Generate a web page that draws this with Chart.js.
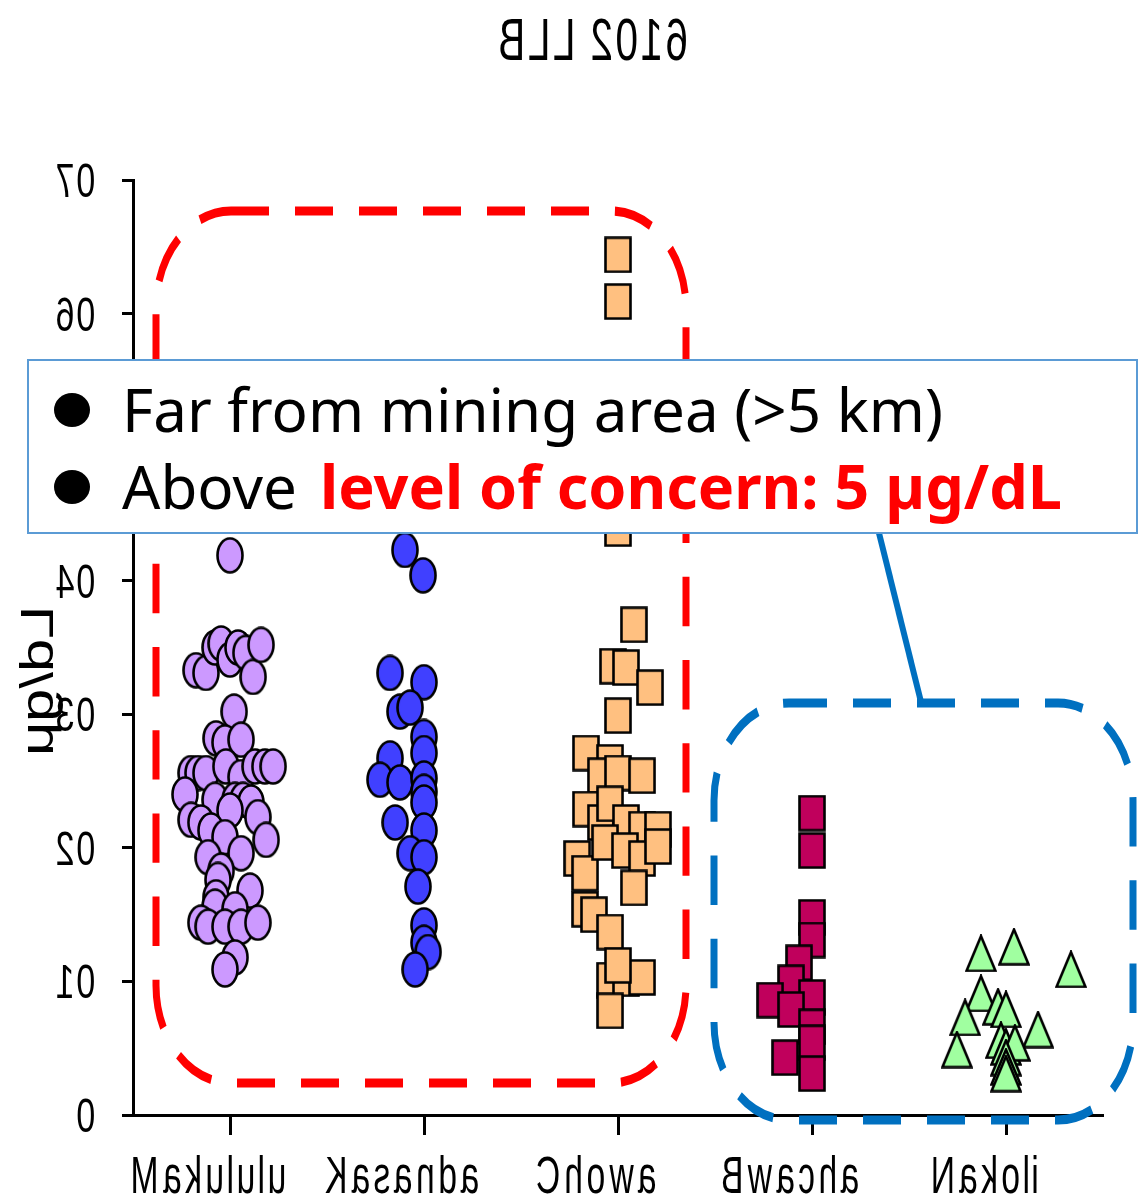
<!DOCTYPE html>
<html>
<head>
<meta charset="utf-8">
<script src="https://cdn.jsdelivr.net/npm/chart.js@4.4.1/dist/chart.umd.min.js"></script>
<style>
  html, body { margin: 0; padding: 0; background: #ffffff; }
  #wrap { width: 1140px; height: 1200px; position: relative; }
</style>
</head>
<body>
<div id="wrap"><canvas id="c" width="1140" height="1200"></canvas></div>
<script>
// ---- chart text ----
const titleText = 'BLL 2016';
const categories = ['Makululu', 'Kasanda', 'Chowa', 'Bwacha', 'Nakoli'];
const yTickValues = [0, 10, 20, 30, 40, 50, 60, 70];
const yAxisTitle = 'μg/dL';
const legendLine1 = 'Far from mining area (>5 km)';
const legendLine2Plain = 'Above ';
const legendLine2Bold = 'level of concern: 5 µg/dL';

// ---- blood lead values (µg/dL) and horizontal spread within each group ----
const makululuValues = [41.9, 33.3, 33.1, 35.0, 35.3, 34.1, 35.0, 34.6, 32.8, 35.2, 30.2, 28.2, 27.9, 28.1,
  25.6, 25.6, 25.6, 26.1, 25.3, 26.1, 26.1, 26.1, 24.0, 23.6, 23.6, 23.6, 23.4, 22.8, 22.1, 21.9, 21.3, 22.3,
  20.8, 20.6, 19.3, 19.6, 18.3, 17.6, 16.8, 16.3, 15.6, 15.4, 14.4, 14.1, 14.1, 14.1, 14.4, 11.8, 10.9];
const makululuSpread = [0, -0.175, -0.124, -0.077, -0.046, 0, 0.041, 0.082, 0.119, 0.160, 0.021, -0.072, -0.026, 0.057,
  -0.201, -0.165, -0.124, -0.021, 0.057, 0.129, 0.180, 0.222, -0.232, -0.077, 0.026, 0.067, 0.108, 0, -0.201, -0.150, -0.098, 0.144,
  -0.026, 0.186, -0.113, 0.057, -0.046, -0.062, 0.103, -0.072, -0.077, 0.026, -0.150, -0.113, -0.026, 0.057, 0.144, 0.026, -0.026];

const kasandaValues = [42.3, 40.4, 33.1, 32.4, 30.2, 30.5, 28.3, 27.1, 26.7, 25.1, 24.9, 25.2, 24.2, 23.4,
  21.3, 21.9, 19.6, 19.3, 17.1, 14.2, 12.9, 12.2, 10.9];
const kasandaSpread = [-0.098, -0.005, -0.175, 0, -0.124, -0.072, 0, 0, -0.175, -0.227, -0.124, 0, 0, 0,
  0, -0.149, -0.072, 0, -0.031, 0, 0, 0.021, -0.046];

const chowaValues = [64.4, 60.9, 43.9, 36.7, 33.6, 33.5, 32.0, 29.9, 27.1, 26.4, 25.4, 25.6, 25.4, 22.9, 21.9,
  23.3, 21.9, 21.4, 21.4, 19.2, 18.1, 20.4, 19.8, 19.2, 20.1, 17.0, 15.4, 15.0, 13.7, 10.1, 10.2, 10.3, 11.2, 7.8];
const chowaSpread = [0, 0, 0, 0.082, -0.026, 0.041, 0.165, 0, -0.165, -0.041, -0.088, 0, 0.124, -0.165, -0.088,
  -0.041, 0.041, 0.124, 0.206, -0.211, -0.170, -0.067, 0.036, 0.124, 0.206, 0.082, -0.170, -0.124, -0.041, -0.041, 0.041, 0.124, 0, -0.041];

const bwachaValues = [22.6, 19.8, 14.8, 13.1, 11.4, 9.9, 8.6, 8.8, 7.9, 6.6, 4.3, 5.4, 3.1];
const bwachaSpread = [0, 0, 0, 0, -0.067, -0.108, -0.216, 0, -0.108, 0, -0.139, 0, 0];

const nakoliValues = [12.1, 12.6, 10.9, 9.1, 8.1, 7.9, 7.3, 6.4, 4.9, 5.6, 5.1, 5.4, 4.3, 3.6, 3.1];
const nakoliSpread = [-0.129, 0.041, 0.335, -0.129, -0.041, 0, -0.211, 0.165, -0.253, -0.026, 0, 0.046, 0, 0, 0];

// ---- marker glyphs ----
function markerImage(shape, fill) {
  const c = document.createElement('canvas');
  const w = shape === 'triangle' ? 32 : 28;
  const h = shape === 'triangle' ? 38 : 37;
  c.width = w; c.height = h;
  const g = c.getContext('2d');
  g.fillStyle = fill;
  g.strokeStyle = '#000000';
  g.lineWidth = 2.6;
  g.lineJoin = 'miter';
  g.beginPath();
  if (shape === 'ellipse') {
    g.ellipse(w / 2, h / 2, w / 2 - 1.5, h / 2 - 1.5, 0, 0, Math.PI * 2);
  } else if (shape === 'rect') {
    g.rect(1.5, 1.5, w - 3, h - 3);
  } else {
    g.moveTo(w / 2, 1.8);
    g.lineTo(w - 1.5, h - 1.5);
    g.lineTo(1.5, h - 1.5);
    g.closePath();
  }
  g.fill();
  g.stroke();
  return c;
}

const groups = [
  { values: makululuValues, spread: makululuSpread, shape: 'ellipse', color: '#CC99FF' },
  { values: kasandaValues, spread: kasandaSpread, shape: 'ellipse', color: '#4040FF' },
  { values: chowaValues, spread: chowaSpread, shape: 'rect', color: '#FFC080' },
  { values: bwachaValues, spread: bwachaSpread, shape: 'rect', color: '#C0005C' },
  { values: nakoliValues, spread: nakoliSpread, shape: 'triangle', color: '#A0FFA0' }
];

const datasets = groups.map((grp, gi) => ({
  label: categories[gi],
  data: grp.values.map((v, i) => ({ x: gi + grp.spread[i], y: v })),
  pointStyle: markerImage(grp.shape, grp.color),
  pointRadius: 14,
  pointHoverRadius: 14,
  showLine: false
}));

// ---- text drawn with each glyph reversed in place ----
const STRETCH = 1.3;
function drawReversedGlyphs(ctx, str, x, y, o) {
  ctx.save();
  ctx.translate(x, y);
  ctx.scale(1, STRETCH);
  if (o.angle) ctx.rotate(o.angle);
  ctx.font = o.font;
  ctx.fillStyle = o.color || '#000000';
  ctx.textBaseline = 'alphabetic';
  ctx.textAlign = 'left';
  const squeeze = o.squeeze || 1;
  const total = ctx.measureText(str).width;
  const start = o.align === 'right' ? -total : (o.align === 'left' ? 0 : -total / 2);
  let prefix = '';
  for (const ch of Array.from(str)) {
    const before = ctx.measureText(prefix).width;
    const w = ctx.measureText(ch).width;
    ctx.save();
    ctx.translate(start + before + w / 2, 0);
    ctx.scale(-squeeze, 1);
    ctx.textAlign = 'center';
    ctx.fillText(ch, 0, 0);
    ctx.restore();
    prefix += ch;
  }
  ctx.restore();
}

const chartText = {
  id: 'chartText',
  afterDraw(chart) {
    const ctx = chart.ctx;
    const xs = chart.scales.x, ys = chart.scales.y;
    const fam = '"Liberation Sans", Arial, sans-serif';
    drawReversedGlyphs(ctx, titleText, 593, 60, { font: '45px ' + fam, align: 'center', squeeze: 0.9 });
    yTickValues.forEach(v => {
      drawReversedGlyphs(ctx, String(v), 96, ys.getPixelForValue(v) + 17, { font: '37px ' + fam, align: 'right', squeeze: 0.92 });
    });
    categories.forEach((name, i) => {
      drawReversedGlyphs(ctx, name, xs.getPixelForValue(i) - 22, 1193, { font: '40px ' + fam, align: 'center', squeeze: 0.84 });
    });
    drawReversedGlyphs(ctx, yAxisTitle, 53, 681, { font: '46px ' + fam, align: 'center', angle: -Math.PI / 2 });
  }
};

// ---- highlight frames and call-out box ----
function dashedFrame(ctx, l, t, r, b, radius, color) {
  ctx.save();
  ctx.scale(1, STRETCH);
  ctx.strokeStyle = color;
  ctx.lineWidth = 7;
  ctx.setLineDash([38, 26]);
  ctx.beginPath();
  ctx.roundRect(l, t / STRETCH, r - l, (b - t) / STRETCH, radius);
  ctx.stroke();
  ctx.restore();
}

const callout = {
  id: 'callout',
  afterDraw(chart) {
    const ctx = chart.ctx;
    dashedFrame(ctx, 156, 211, 686, 1083, 75, '#FF0000');
    dashedFrame(ctx, 714, 703, 1133, 1120, 75, '#0070C0');

    ctx.save();
    ctx.strokeStyle = '#0070C0';
    ctx.lineWidth = 6;
    ctx.beginPath();
    ctx.moveTo(879, 533);
    ctx.lineTo(921, 702);
    ctx.stroke();

    ctx.fillStyle = '#ffffff';
    ctx.fillRect(28, 360, 1109, 173);
    ctx.strokeStyle = '#5B9BD5';
    ctx.lineWidth = 2;
    ctx.strokeRect(28, 360, 1109, 173);

    ctx.fillStyle = '#000000';
    [410, 487].forEach(cy => {
      ctx.beginPath();
      ctx.ellipse(72, cy, 18, 17, 0, 0, Math.PI * 2);
      ctx.fill();
    });

    const fam = '"Noto Sans", "Open Sans", sans-serif';
    ctx.font = '60px ' + fam;
    const fs = 60 * 821 / ctx.measureText(legendLine1).width;
    ctx.textBaseline = 'alphabetic';
    ctx.textAlign = 'left';
    ctx.font = fs.toFixed(2) + 'px ' + fam;
    ctx.fillText(legendLine1, 122, 432);
    ctx.fillText(legendLine2Plain, 122, 509);
    const plainW = ctx.measureText(legendLine2Plain).width;
    const boldStart = Math.max(122 + plainW, 320);
    ctx.font = 'bold ' + fs.toFixed(2) + 'px ' + fam;
    const bfs = fs * 742 / ctx.measureText(legendLine2Bold).width;
    ctx.font = 'bold ' + bfs.toFixed(2) + 'px ' + fam;
    ctx.fillStyle = '#FF0000';
    ctx.fillText(legendLine2Bold, boldStart, 509);
    ctx.restore();
  }
};

const axisStyle = {
  border: { display: true, color: '#000000', width: 3 },
  ticks: { display: false }
};

new Chart(document.getElementById('c').getContext('2d'), {
  type: 'scatter',
  data: { datasets },
  options: {
    responsive: false,
    animation: false,
    devicePixelRatio: 1,
    layout: { padding: { top: 180, right: 37, left: 0, bottom: 0 } },
    plugins: { legend: { display: false }, tooltip: { enabled: false }, title: { display: false } },
    scales: {
      x: {
        type: 'linear', position: 'bottom', min: -0.5, max: 4.5,
        afterBuildTicks: s => { s.ticks = categories.map((_, i) => ({ value: i })); },
        afterFit: s => { s.height = 85; },
        grid: { display: true, drawOnChartArea: false, drawTicks: true, tickLength: 20, tickWidth: 3, tickColor: '#000000' },
        ...axisStyle
      },
      y: {
        type: 'linear', position: 'left', min: 0, max: 70,
        afterBuildTicks: s => { s.ticks = yTickValues.map(v => ({ value: v })); },
        afterFit: s => { s.width = 133; },
        grid: { display: true, drawOnChartArea: false, drawTicks: true, tickLength: 11, tickWidth: 3, tickColor: '#000000' },
        ...axisStyle
      }
    }
  },
  plugins: [chartText, callout]
});
</script>
</body>
</html>
